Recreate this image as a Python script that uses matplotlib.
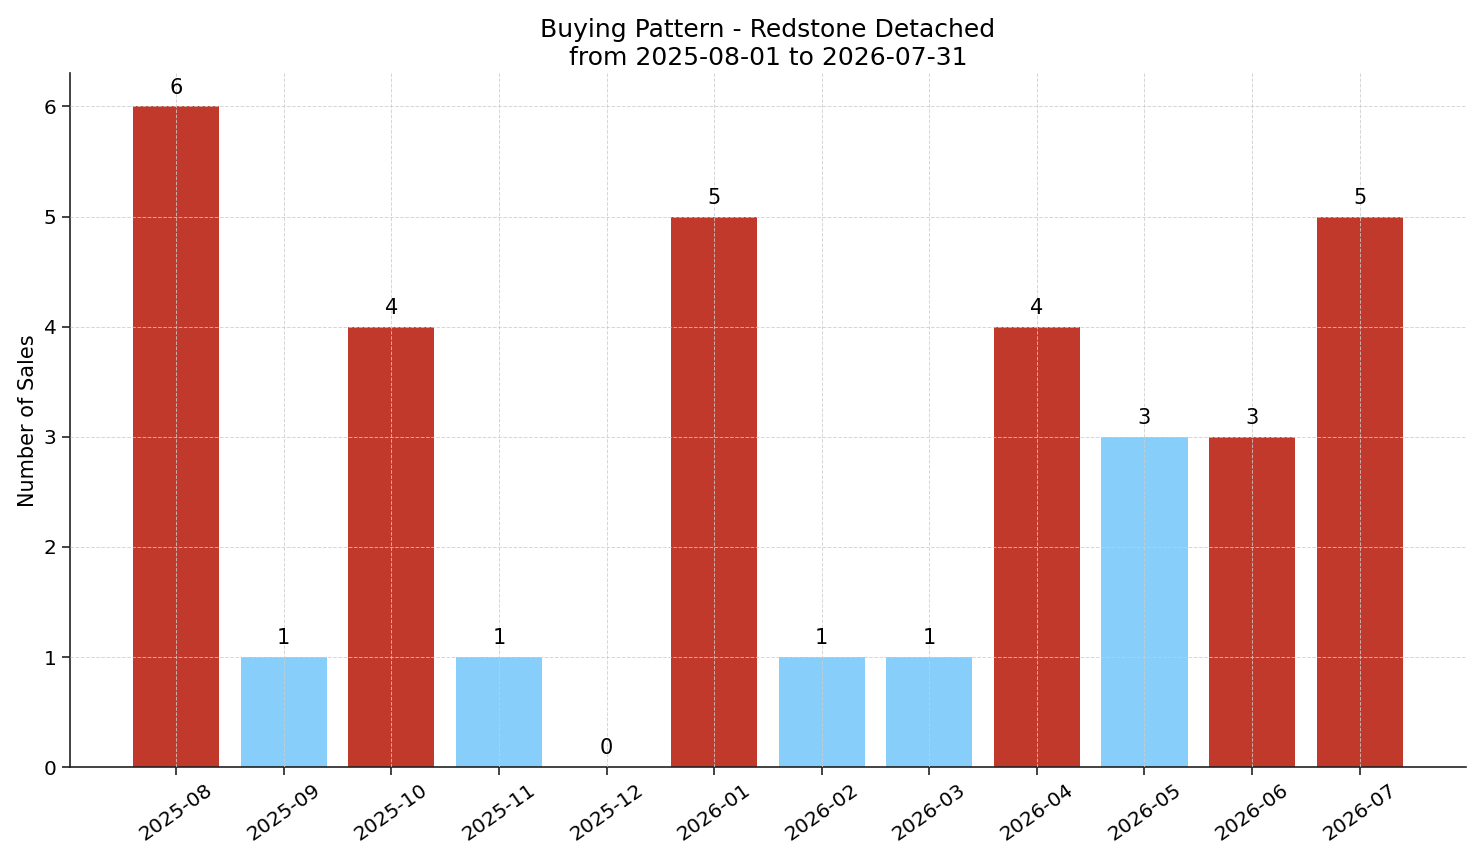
import matplotlib
matplotlib.use("Agg")
import matplotlib.pyplot as plt

# monthly sales for the period
months = ["2025-08", "2025-09", "2025-10", "2025-11", "2025-12", "2026-01",
          "2026-02", "2026-03", "2026-04", "2026-05", "2026-06", "2026-07"]
sales = [6, 1, 4, 1, 0, 5, 1, 1, 4, 3, 3, 5]
highlight = [True, False, True, False, False, True, False, False, True, False, True, True]

RED = "#c0392b"
BLUE = "#87cefa"
colors = [RED if h else BLUE for h in highlight]

fig, ax = plt.subplots(figsize=(14.81, 8.63), dpi=100)
x = list(range(len(months)))
bars = ax.bar(x, sales, color=colors, width=0.8)

for b, v in zip(bars, sales):
    ax.text(b.get_x() + b.get_width() / 2, v + 0.08, str(v),
            ha="center", va="bottom", fontsize=15)

ax.set_xticks(x)
ax.set_xticklabels(months, rotation=35, ha="center", fontsize=14.5)
ax.tick_params(axis="y", labelsize=14.5)
ax.tick_params(length=6, width=1.2, color="#222222")
ax.set_ylabel("Number of Sales", fontsize=15)
ax.set_title("Buying Pattern - Redstone Detached\nfrom 2025-08-01 to 2026-07-31", fontsize=18)

ax.grid(True, linestyle="--", linewidth=0.7, color="#cccccc", alpha=0.8)
ax.set_axisbelow(False)
for s in ["top", "right"]:
    ax.spines[s].set_visible(False)
for s in ["left", "bottom"]:
    ax.spines[s].set_linewidth(1.2)
    ax.spines[s].set_color("#222222")

fig.subplots_adjust(left=0.047, right=0.99, top=0.915, bottom=0.111)
fig.savefig("out.png", dpi=100)
